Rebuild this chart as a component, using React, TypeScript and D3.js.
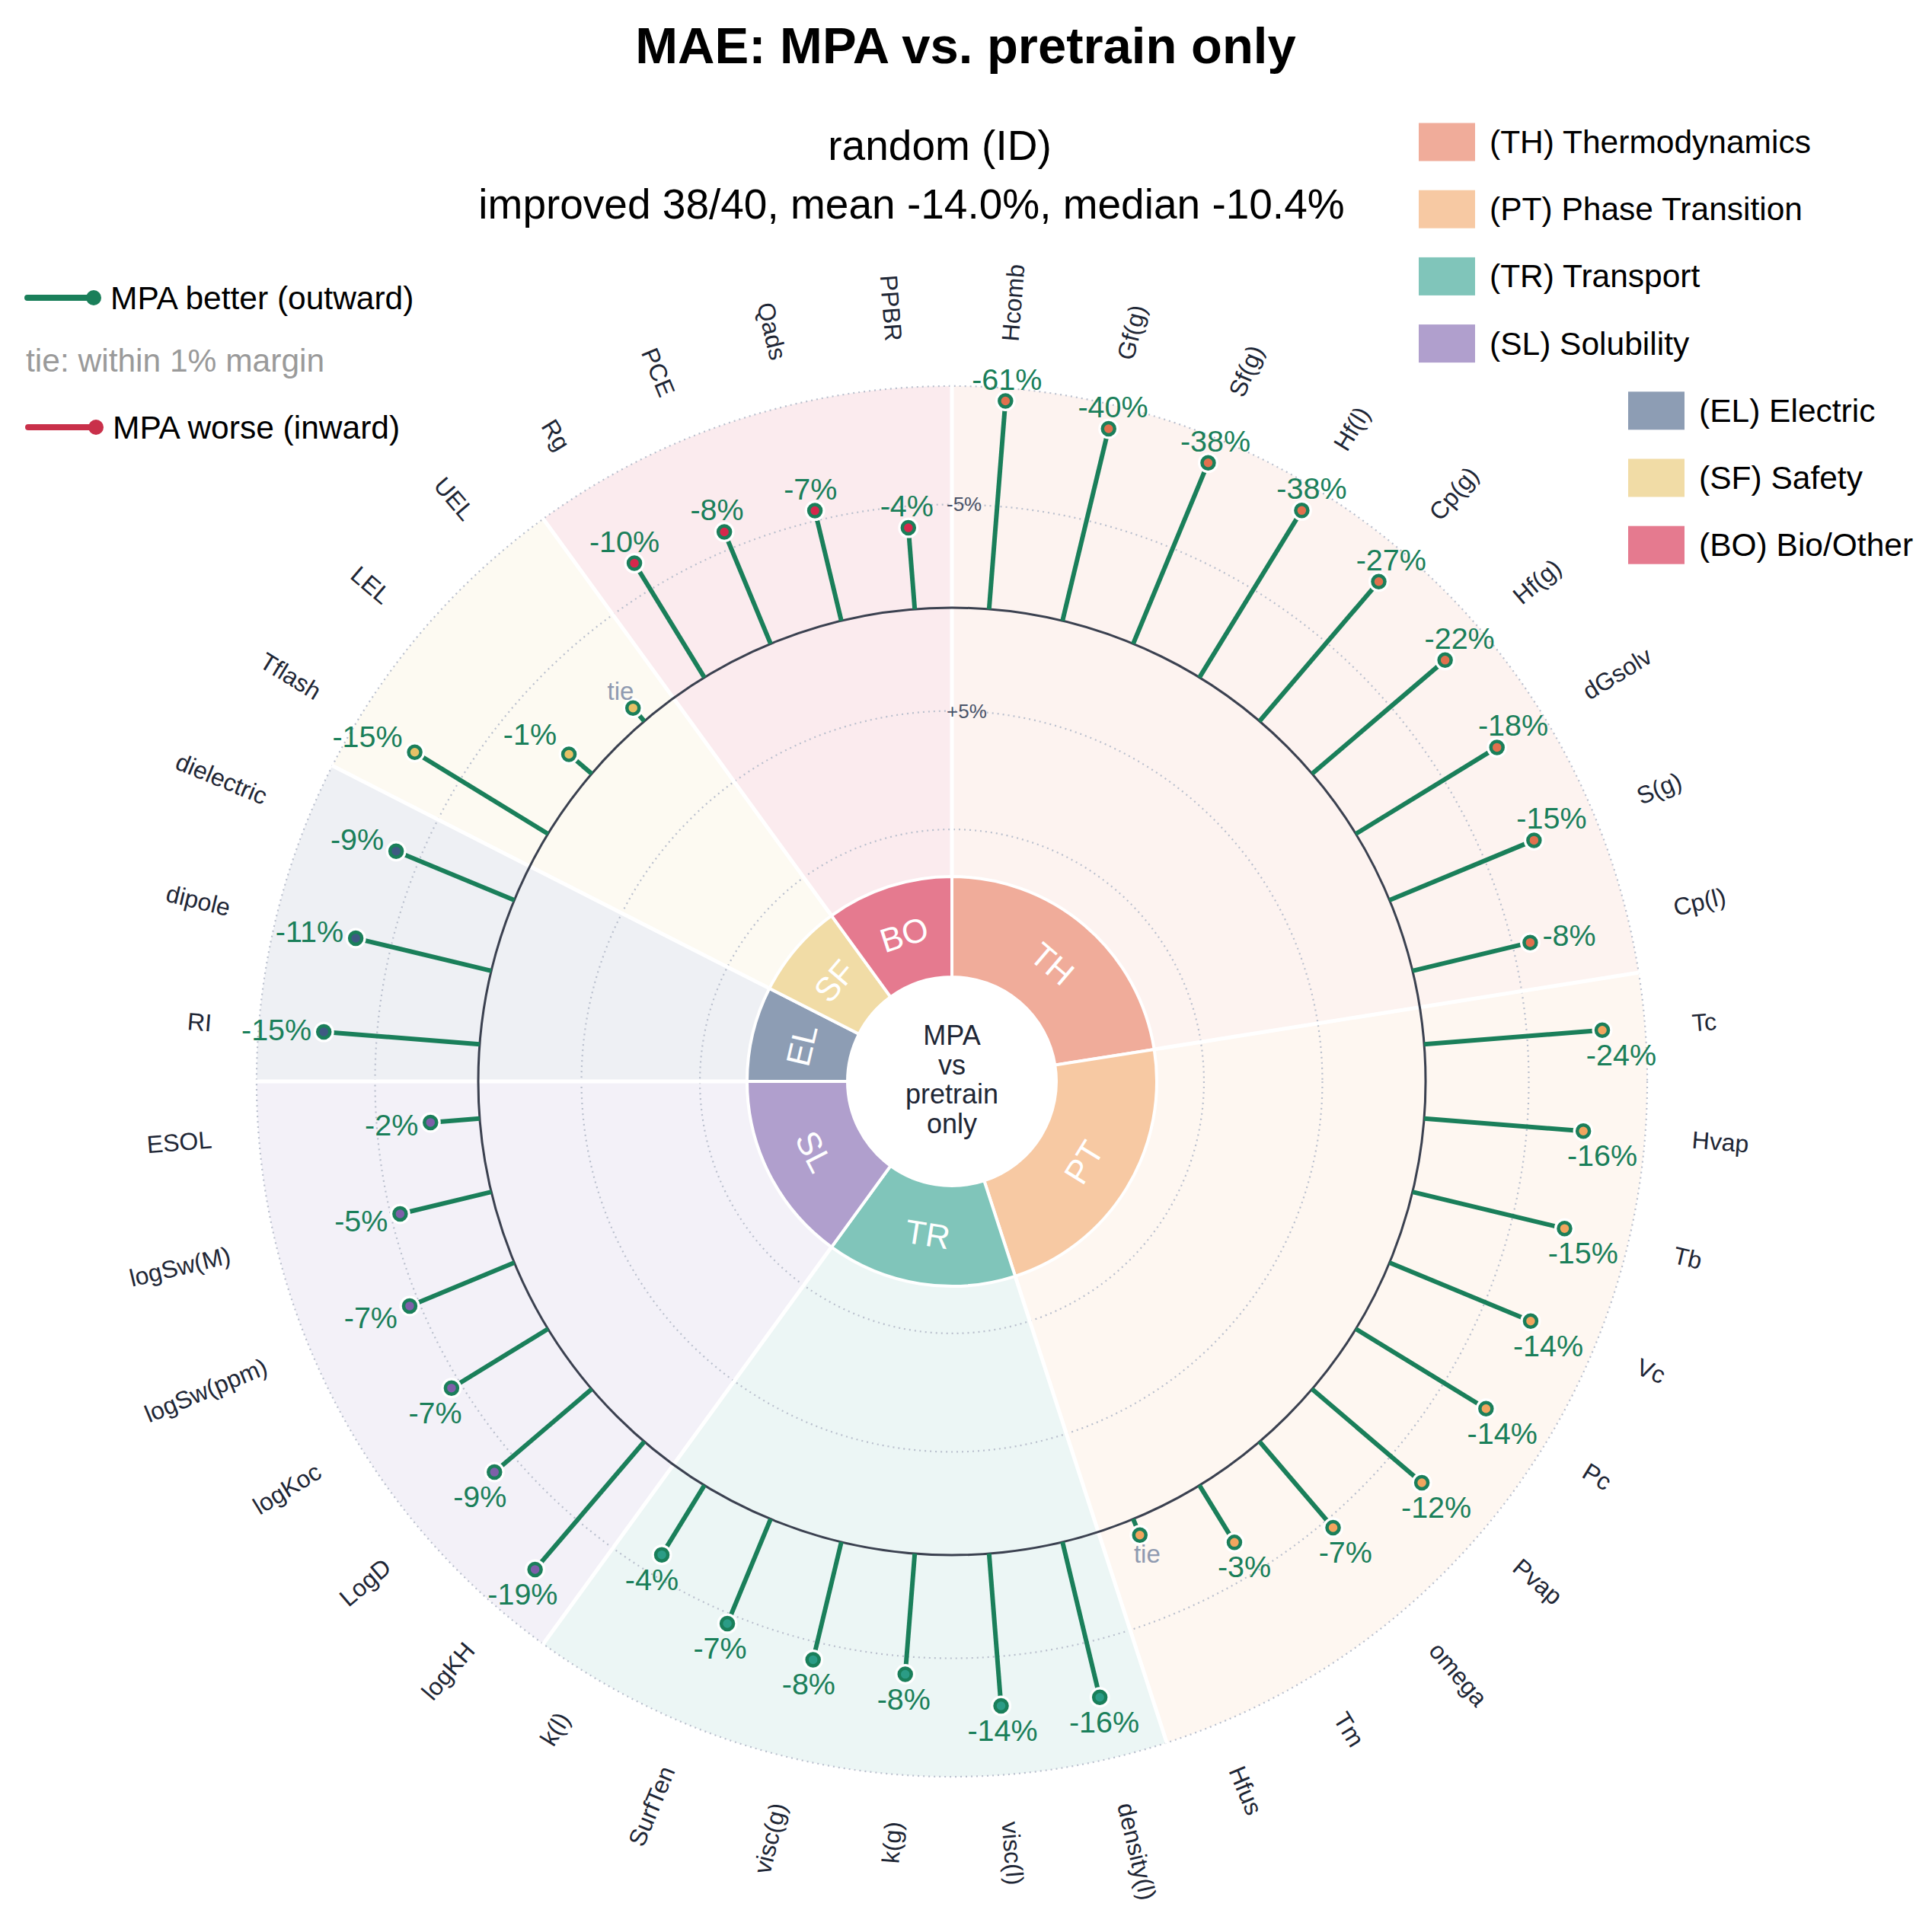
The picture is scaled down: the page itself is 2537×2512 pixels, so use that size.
import * as d3 from "d3";
import { useEffect } from "react";

const W = 2537;
const H = 2512;
const CX = 1250;
const CY = 1420;
const HOLE = 137; // white centre
const RING = 269; // outer edge of group ring
const BASE = 622; // zero line
const OUTER = 913; // outer grid ring
const LABEL_R = 975; // property names
const FONT = "'Liberation Sans', Arial, Helvetica, sans-serif";

const GREEN = "#1a7f5a";
const RED = "#c9304a";
const INK = "#1e2635";

const GROUPS = ["TH", "PT", "TR", "SL", "EL", "SF", "BO"];
const GROUP_NAMES = [
  "Thermodynamics",
  "Phase Transition",
  "Transport",
  "Solubility",
  "Electric",
  "Safety",
  "Bio/Other",
];
const GROUP_FILL = ["#f0ac9a", "#f7c9a3", "#80c5ba", "#b09fcd", "#8d9db4", "#f1dca6", "#e57a8f"];
const DOT_FILL = ["#e2704e", "#f2a55f", "#2b9c86", "#7e5fa9", "#3e5a82", "#e6c167", "#d6284c"];

const PROPS = [
  "Hcomb", "Gf(g)", "Sf(g)", "Hf(l)", "Cp(g)", "Hf(g)", "dGsolv", "S(g)", "Cp(l)",
  "Tc", "Hvap", "Tb", "Vc", "Pc", "Pvap", "omega", "Tm", "Hfus",
  "density(l)", "visc(l)", "k(g)", "visc(g)", "SurfTen", "k(l)",
  "logKH", "LogD", "logKoc", "logSw(ppm)", "logSw(M)", "ESOL",
  "RI", "dipole", "dielectric",
  "Tflash", "LEL", "UEL",
  "Rg", "PCE", "Qads", "PPBR",
];
const PROP_GROUP = [
  "TH", "TH", "TH", "TH", "TH", "TH", "TH", "TH", "TH",
  "PT", "PT", "PT", "PT", "PT", "PT", "PT", "PT", "PT",
  "TR", "TR", "TR", "TR", "TR", "TR",
  "SL", "SL", "SL", "SL", "SL", "SL",
  "EL", "EL", "EL",
  "SF", "SF", "SF",
  "BO", "BO", "BO", "BO",
];
// % change of MAE (MPA vs pretrain only); negative = MPA better
const CHANGE = [
  -61, -40, -38, -38, -27, -22, -18, -15, -8,
  -24, -16, -15, -14, -14, -12, -7, -3, -0.6,
  -16, -14, -8, -8, -7, -4,
  -19, -9, -7, -7, -5, -2,
  -15, -11, -9,
  -15, -1.1, -0.6,
  -10, -8, -7, -4,
];
const TIE_MARGIN = 1;

const GRID_T = [-0.945, -0.44, 0.44, 0.945]; // rings on the squashed axis
const GRID_LABELS = [
  { t: 0.44, text: "-5%" },
  { t: -0.44, text: "+5%" },
];

const TITLE = "MAE: MPA vs. pretrain only";
const SUB1 = "random (ID)";
const SUB2 = "improved 38/40, mean -14.0%, median -10.4%";

// saturating radial transform: big changes get compressed near the rim
const SQ = 7.5;
const squash = (v: number) => (Math.sign(v) * Math.abs(v)) / (Math.abs(v) + SQ);
const rScale = d3.scaleLinear().domain([-1, 1]).range([BASE - 308, BASE + 308]);
const radius = (pct: number) => rScale(squash(-pct));

const angle = d3.scaleBand<string>().domain(PROPS).range([0, 2 * Math.PI]);
const mid = (p: string) => (angle(p) ?? 0) + angle.bandwidth() / 2;

const arc = d3.arc<any>();

function valueLabel(theta: number, x: number, y: number, tie: boolean) {
  const deg = (theta * 180) / Math.PI;
  const s = Math.sin(theta);
  const c = Math.cos(theta);
  if (deg >= 245 && deg <= 315) return { x: x - 16, y: y - 40 * c, anchor: "end" };
  if (deg >= 70 && deg < 80) return { x: x + 16, y: y - 40 * c, anchor: "start" };
  const dy = tie ? 22 : 29;
  if (deg < 70 || deg > 315) return { x: x + 25 * s, y: y - dy, anchor: "middle" };
  return { x: x + 25 * s, y: y + dy + 3, anchor: "middle" };
}

export default function App() {
  useEffect(() => {
    document.body.style.margin = "0";
    document.body.style.overflow = "hidden";
  }, []);

  const spans = GROUPS.map((g, gi) => {
    const idx = PROP_GROUP.map((d, i) => (d === g ? i : -1)).filter((i) => i >= 0);
    const a0 = angle(PROPS[idx[0]]) ?? 0;
    const a1 = (angle(PROPS[idx[idx.length - 1]]) ?? 0) + angle.bandwidth();
    return { g, gi, a0, a1 };
  });

  return (
    <svg width={W} height={H} style={{ display: "block", background: "#fff" }} fontFamily={FONT}>
      {/* titles */}
      <text x={1268} y={83} textAnchor="middle" fontSize={67} fontWeight="bold" fill="#000">
        {TITLE}
      </text>
      <text x={1234} y={210} textAnchor="middle" fontSize={55} fill="#000">
        {SUB1}
      </text>
      <text x={1197} y={287} textAnchor="middle" fontSize={55} fill="#000">
        {SUB2}
      </text>

      {/* left legend */}
      <g>
        <line x1={36} x2={122} y1={391} y2={391} stroke={GREEN} strokeWidth={8} strokeLinecap="round" />
        <circle cx={123} cy={391} r={10} fill={GREEN} />
        <text x={145} y={391} dominantBaseline="central" fontSize={42.5} fill="#000">
          MPA better (outward)
        </text>
        <text x={34} y={473} dominantBaseline="central" fontSize={42.5} fill="#9a9a9a">
          tie: within 1% margin
        </text>
        <line x1={37} x2={125} y1={561} y2={561} stroke={RED} strokeWidth={8} strokeLinecap="round" />
        <circle cx={126} cy={561} r={10} fill={RED} />
        <text x={148} y={561} dominantBaseline="central" fontSize={42.5} fill="#000">
          MPA worse (inward)
        </text>
      </g>

      {/* group legend */}
      {GROUPS.map((g, i) => {
        const x = i < 4 ? 1863 : 2138;
        const y = 186.5 + i * 88.2;
        return (
          <g key={g}>
            <rect x={x} y={y - 25} width={74} height={50} fill={GROUP_FILL[i]} />
            <text x={x + 93} y={y} dominantBaseline="central" fontSize={42.5} fill="#000">
              ({g}) {GROUP_NAMES[i]}
            </text>
          </g>
        );
      })}

      <g transform={`translate(${CX},${CY})`}>
        {/* background sectors */}
        {spans.map((s) => (
          <path
            key={"bg" + s.g}
            d={arc({ innerRadius: HOLE, outerRadius: OUTER, startAngle: s.a0, endAngle: s.a1 }) ?? ""}
            fill={GROUP_FILL[s.gi]}
            fillOpacity={0.15}
          />
        ))}

        {/* grid rings */}
        {GRID_T.map((t) => (
          <circle
            key={t}
            r={rScale(t)}
            fill="none"
            stroke="#b9bfcd"
            strokeWidth={2.2}
            strokeDasharray="2 5"
          />
        ))}

        {/* sector separators */}
        {spans.map((s) => {
          const [x1, y1] = d3.pointRadial(s.a0, HOLE);
          const [x2, y2] = d3.pointRadial(s.a0, OUTER + 1);
          return <line key={"sep" + s.g} x1={x1} y1={y1} x2={x2} y2={y2} stroke="#fff" strokeWidth={5} />;
        })}

        {/* group ring */}
        {spans.map((s) => {
          const m = (s.a0 + s.a1) / 2;
          const [lx, ly] = d3.pointRadial(m, (HOLE + RING) / 2);
          const deg = (m * 180) / Math.PI;
          const rot = deg > 90 && deg < 270 ? deg - 180 : deg > 270 ? deg - 360 : deg;
          return (
            <g key={"ring" + s.g}>
              <path
                d={arc({ innerRadius: HOLE, outerRadius: RING, startAngle: s.a0, endAngle: s.a1 }) ?? ""}
                fill={GROUP_FILL[s.gi]}
                stroke="#fff"
                strokeWidth={4}
              />
              <text
                x={lx}
                y={ly}
                transform={`rotate(${rot},${lx},${ly})`}
                textAnchor="middle"
                dominantBaseline="central"
                fontSize={44}
                fill="#fff"
              >
                {s.g}
              </text>
            </g>
          );
        })}

        {/* zero line */}
        <circle r={BASE} fill="none" stroke="#3b4150" strokeWidth={3} />

        {/* ring tick labels */}
        {GRID_LABELS.map((d) => (
          <text
            key={d.text}
            x={-7}
            y={-rScale(d.t)}
            dominantBaseline="central"
            fontSize={26}
            fill="#4a5368"
          >
            {d.text}
          </text>
        ))}

        {/* lollipops */}
        {PROPS.map((p, i) => {
          const a = mid(p);
          const v = CHANGE[i];
          const gi = GROUPS.indexOf(PROP_GROUP[i]);
          const [x0, y0] = d3.pointRadial(a, BASE);
          const [x1, y1] = d3.pointRadial(a, radius(v));
          const better = v <= 0;
          return (
            <g key={"stem" + p}>
              <line x1={x0} y1={y0} x2={x1} y2={y1} stroke={better ? GREEN : RED} strokeWidth={6} />
              <circle cx={x1} cy={y1} r={13.5} fill="#fff" />
              <circle cx={x1} cy={y1} r={8} fill={DOT_FILL[gi]} stroke={better ? GREEN : RED} strokeWidth={4.5} />
            </g>
          );
        })}

        {/* value labels */}
        {PROPS.map((p, i) => {
          const a = mid(p);
          const v = CHANGE[i];
          const tie = Math.abs(v) < TIE_MARGIN;
          const [x1, y1] = d3.pointRadial(a, radius(v));
          const pos = valueLabel(a, x1, y1, tie);
          return (
            <text
              key={"val" + p}
              x={pos.x}
              y={pos.y}
              textAnchor={pos.anchor as any}
              dominantBaseline="central"
              fontSize={tie ? 33 : 39.5}
              fill={tie ? "#8f9ab0" : v < 0 ? GREEN : RED}
            >
              {tie ? "tie" : `${Math.round(v)}%`}
            </text>
          );
        })}

        {/* property names */}
        {PROPS.map((p) => {
          const a = mid(p);
          const deg = (a * 180) / Math.PI;
          const [lx, ly] = d3.pointRadial(a, LABEL_R);
          const right = deg < 180;
          return (
            <text
              key={"lab" + p}
              x={lx}
              y={ly}
              transform={`rotate(${right ? deg - 90 : deg + 90},${lx},${ly})`}
              textAnchor={right ? "start" : "end"}
              dominantBaseline="central"
              fontSize={32}
              fill={INK}
            >
              {p}
            </text>
          );
        })}

        {/* centre text */}
        {["MPA", "vs", "pretrain", "only"].map((t, i) => (
          <text key={t} x={0} y={-48 + i * 38.5} textAnchor="middle" fontSize={36} fill={INK}>
            {t}
          </text>
        ))}
      </g>
    </svg>
  );
}
